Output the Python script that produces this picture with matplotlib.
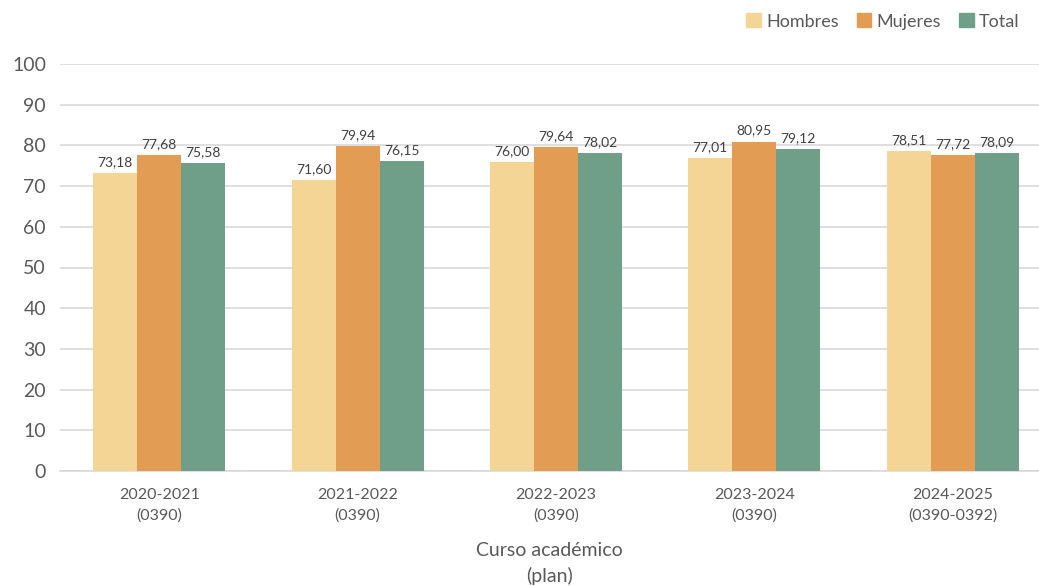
import numpy as np
import matplotlib.pyplot as plt
from matplotlib.patches import Patch

# Data
cursos = ["2020-2021\n(0390)", "2021-2022\n(0390)", "2022-2023\n(0390)",
          "2023-2024\n(0390)", "2024-2025\n(0390-0392)"]
hombres = [73.18, 71.60, 76.00, 77.01, 78.51]
mujeres = [77.68, 79.94, 79.64, 80.95, 77.72]
total = [75.58, 76.15, 78.02, 79.12, 78.09]

series = [("Hombres", hombres, "#F5D595"),
          ("Mujeres", mujeres, "#E39C53"),
          ("Total", total, "#6F9F88")]

plt.rcParams['font.family'] = ['Lato', 'DejaVu Sans']
txt = "#595959"

fig = plt.figure(figsize=(10.39, 5.86), dpi=100)
ax = fig.add_axes([60 / 1039, 1 - 471 / 586, 1 - 60 / 1039, (471 - 64) / 586])

x = np.arange(len(cursos))
w = 0.222
for i, (name, vals, col) in enumerate(series):
    bars = ax.bar(x + (i - 1) * w, vals, w, color=col, label=name, zorder=3)
    for b, v in zip(bars, vals):
        ax.text(b.get_x() + b.get_width() / 2, v + 1.2, f"{v:.2f}".replace(".", ","),
                ha="center", va="bottom", fontsize=10, color="#404040", zorder=4)

ax.set_xlim(-0.5, 4.435)
ax.set_ylim(0, 100)
ax.set_yticks(range(0, 101, 10))
ax.set_xticks(x)
ax.set_xticklabels(cursos, fontsize=11.5, color=txt, linespacing=1.6)
ax.tick_params(axis="y", labelsize=14, colors=txt, length=0, pad=10)
ax.tick_params(axis="x", length=0, pad=12)
ax.grid(axis="y", color="#D9D9D9", linewidth=1.2, zorder=0)
for s in ["top", "right", "left"]:
    ax.spines[s].set_visible(False)
ax.spines["bottom"].set_color("#D9D9D9")
ax.spines["bottom"].set_linewidth(1.2)
ax.set_xlabel("Curso académico\n(plan)", fontsize=14, color=txt, labelpad=14, linespacing=1.5)

handles = [Patch(color=c, label=n) for n, _, c in series]
fig.legend(handles=handles, loc="upper right", bbox_to_anchor=(0.997, 1.005), ncol=3,
           frameon=False, fontsize=13, labelcolor=txt, handlelength=0.8,
           handleheight=0.8, handletextpad=0.3, columnspacing=1.0)

fig.savefig("out.png", dpi=100)
